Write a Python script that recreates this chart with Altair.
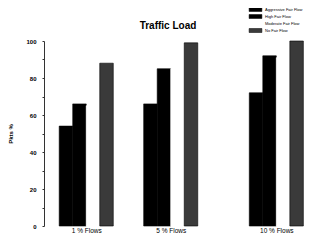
import altair as alt
import pandas as pd

flows = [1, 5, 10]
flow_labels = ["1 % Flows", "5 % Flows", "10 % Flows"]
series = ["Aggressive Fair Flow", "High Fair Flow", "Moderate Fair Flow", "No Fair Flow"]
aggressive = [54, 66, 72]
high = [66, 85, 92]
moderate = [65, 85, 91]
no_fair = [88, 99, 100]
colors = ["#000000", "#000000", "#ffffff", "#3a3a3a"]
strokes = ["#000000", "#000000", "#ffffff", "#000000"]
bar_w = 0.64  # bar width in flow-axis units

values = [aggressive, high, moderate, no_fair]
rows = []
for si, (name, vals) in enumerate(zip(series, values)):
    for f, v in zip(flows, vals):
        rows.append({"flow": f, "series": name, "idx": si, "pct": v})
df = pd.DataFrame(rows)

label_expr = " : ".join(
    f"datum.value == {f} ? '{l}'" for f, l in zip(flows[:-1], flow_labels[:-1])
) + f" : '{flow_labels[-1]}'"

chart = alt.Chart(df).transform_calculate(
    x0=f"datum.flow + (datum.idx - 2) * {bar_w}",
    x1=f"datum.flow + (datum.idx - 1) * {bar_w}",
).mark_bar(strokeWidth=0.6).encode(
    x=alt.X("x0:Q", scale=alt.Scale(domain=[-1, 11.5], nice=False, zero=False),
            axis=alt.Axis(values=flows, labelExpr=label_expr, title=None, domain=False,
                          ticks=False, grid=False, labelFontSize=6.5, labelPadding=1,
                          labelColor="#000000", labelFont="Liberation Sans")),
    x2="x1:Q",
    y=alt.Y("pct:Q", stack=None, scale=alt.Scale(domain=[0, 100], nice=False),
            axis=alt.Axis(values=list(range(0, 101, 10)),
                          labelExpr="datum.value % 20 == 0 ? datum.value : ''",
                          title="Pkts %", titleFontSize=6, titleFontWeight="bold",
                          titlePadding=12, titleColor="#000000",
                          labelFontSize=6, labelFontWeight="bold", labelColor="#000000",
                          labelPadding=6, tickSize=2, tickColor="#333333",
                          domainColor="#333333", grid=False, labelFont="Liberation Sans",
                          titleFont="Liberation Sans")),
    y2=alt.datum(0),
    color=alt.Color("series:N", scale=alt.Scale(domain=series, range=colors),
                    sort=series,
                    legend=alt.Legend(orient="none", legendX=204, legendY=-34, title=None,
                                      symbolType="M-3.2,-1H3.2V1H-3.2Z", symbolSize=16,
                                      symbolOffset=5, labelOffset=7, rowPadding=0,
                                      labelFontSize=4, labelFont="Liberation Sans",
                                      labelColor="#000000", symbolStrokeColor="#000000",
                                      symbolStrokeWidth=0.5)),
    stroke=alt.Stroke("series:N", scale=alt.Scale(domain=series, range=strokes),
                      legend=None),
).properties(
    width=264, height=185,
    title=alt.TitleParams("Traffic Load", fontSize=10, fontWeight="bold",
                          font="Liberation Sans", anchor="middle", dx=-8, dy=37,
                          offset=13, color="#000000"),
    autosize=alt.AutoSizeParams(type="none"),
    padding={"left": 36, "top": 33, "right": 0, "bottom": 7},
).configure_view(stroke=None)

chart.save("out.html", embed_options={"renderer": "svg", "actions": False})
